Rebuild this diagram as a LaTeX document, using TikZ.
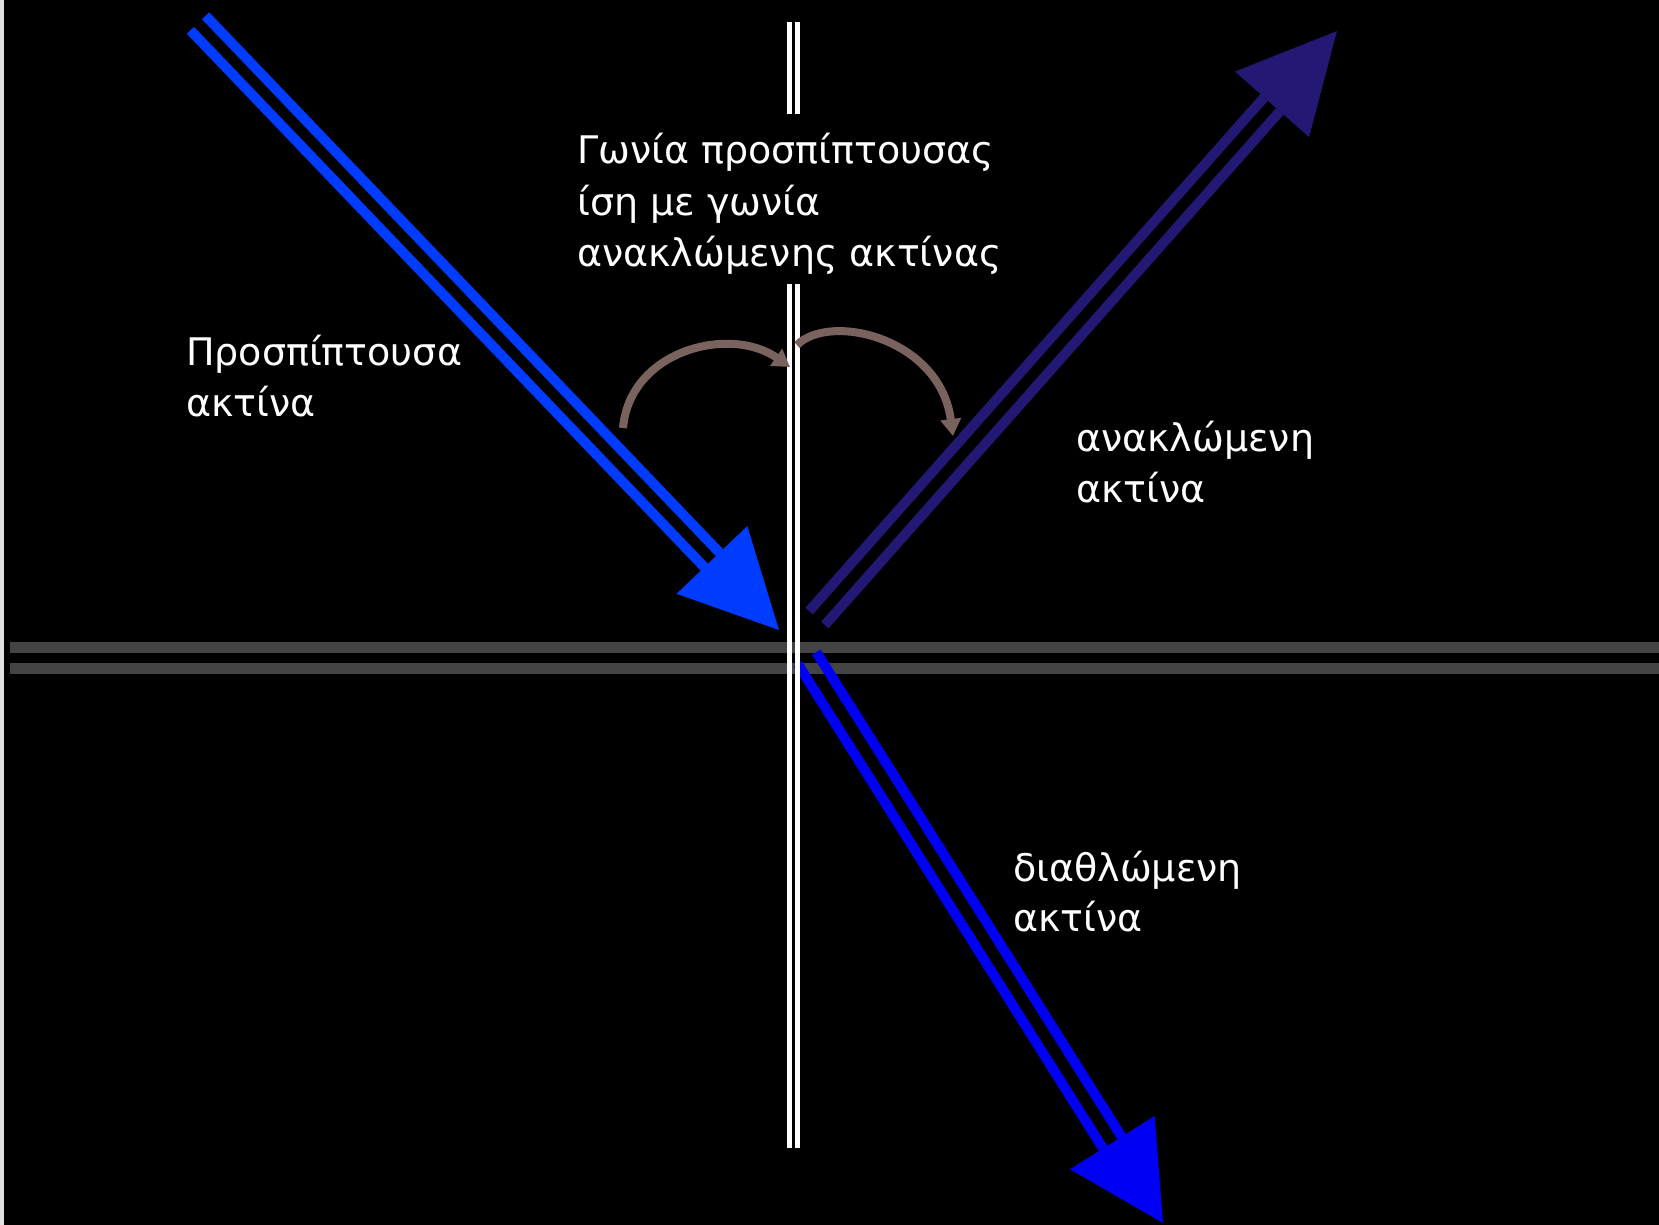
\documentclass[tikz,border=0pt]{standalone}
\usepackage{fontspec}
\setmainfont{DejaVu Sans}
\usetikzlibrary{calc,arrows.meta}
\definecolor{incblue}{RGB}{0,60,255}
\definecolor{refrblue}{RGB}{0,0,245}
\definecolor{reflnavy}{RGB}{35,24,115}
\definecolor{hgray}{RGB}{68,68,68}
\definecolor{curvebrown}{RGB}{122,98,94}
\definecolor{edgegray}{RGB}{225,225,225}
\begin{document}
\begin{tikzpicture}[x=1pt,y=-1pt,
  raystrip/.style={line width=10pt},
  normalline/.style={white,line width=4.5pt},
  surfline/.style={hgray,line width=11pt},
  curvearrow/.style={curvebrown,line width=8pt,-{Triangle[length=17pt,width=20pt]}},
  lbl/.style={text=white,font=\fontsize{38}{51}\selectfont,anchor=base west,inner sep=0pt}]
\useasboundingbox (0,0) rectangle (1659,1225);
\fill[black] (0,0) rectangle (1659,1225);
\fill[edgegray] (0,0) rectangle (4,1225);

% surface (two gray lines)
\coordinate (s1a) at (10,647.5);   \coordinate (s1b) at (1659,647.5);
\coordinate (s2a) at (10,668.5);   \coordinate (s2b) at (1659,668.5);
\draw[surfline] (s1a) -- (s1b);
\draw[surfline] (s2a) -- (s2b);

% incident ray
\coordinate (incS) at (198,23);
\coordinate (incT) at (779,630);
\coordinate (incB) at ($(incT)!97pt!(incS)$);
\draw[raystrip,incblue] ($(incS)!10.5pt!90:(incT)$) -- ($(incB)!10.5pt!90:(incT)$);
\draw[raystrip,incblue] ($(incS)!10.5pt!-90:(incT)$) -- ($(incB)!10.5pt!-90:(incT)$);
\fill[incblue] (incT) -- ($(incB)!49pt!90:(incT)$) -- ($(incB)!49pt!-90:(incT)$) -- cycle;

% reflected ray
\coordinate (rflS) at (817,618);
\coordinate (rflT) at (1337,31);
\coordinate (rflB) at ($(rflT)!98pt!(rflS)$);
\draw[raystrip,reflnavy] ($(rflS)!10.5pt!90:(rflT)$) -- ($(rflB)!10.5pt!90:(rflT)$);
\draw[raystrip,reflnavy] ($(rflS)!10.5pt!-90:(rflT)$) -- ($(rflB)!10.5pt!-90:(rflT)$);
\fill[reflnavy] (rflT) -- ($(rflB)!49.5pt!90:(rflT)$) -- ($(rflB)!49.5pt!-90:(rflT)$) -- cycle;

% refracted ray
\coordinate (rfrS) at (807,658);
\coordinate (rfrT) at (1163,1223);
\coordinate (rfrB) at ($(rfrT)!95pt!(rfrS)$);
\draw[raystrip,refrblue] ($(rfrS)!11pt!90:(rfrT)$) -- ($(rfrB)!11pt!90:(rfrT)$);
\draw[raystrip,refrblue] ($(rfrS)!11pt!-90:(rfrT)$) -- ($(rfrB)!11pt!-90:(rfrT)$);
\fill[refrblue] (rfrT) -- ($(rfrB)!50pt!90:(rfrT)$) -- ($(rfrB)!50pt!-90:(rfrT)$) -- cycle;

% normal (double white line, interrupted by the text)
\coordinate (n1top) at (789.3,22);  \coordinate (n1mid) at (789.3,114);
\coordinate (n2top) at (797.3,22);  \coordinate (n2mid) at (797.3,114);
\coordinate (n1low) at (789.3,284); \coordinate (n1bot) at (789.3,1148);
\coordinate (n2low) at (797.3,284); \coordinate (n2bot) at (797.3,1148);
\draw[normalline] (n1top) -- (n1mid);
\draw[normalline] (n2top) -- (n2mid);
\draw[normalline] (n1low) -- (n1bot);
\draw[normalline] (n2low) -- (n2bot);

% angle arrows
\coordinate (cLs) at (623,428);
\coordinate (cLe) at (790,367);
\draw[curvearrow] (cLs) .. controls (630,350) and (730,325) .. (cLe);
\coordinate (cRs) at (797,345);
\coordinate (cRe) at (953,436);
\draw[curvearrow] (cRs) .. controls (830,312) and (940,338) .. (cRe);

% labels
\node[lbl] (t1) at (577,164) {Γωνία προσπίπτουσας};
\node[lbl] (t2) at (577,215) {ίση με γωνία};
\node[lbl] (t3) at (577,266) {ανακλώμενης ακτίνας};
\node[lbl] (l1) at (186,365) {Προσπίπτουσα};
\node[lbl] (l2) at (186,416) {ακτίνα};
\node[lbl] (r1) at (1076,451) {ανακλώμενη};
\node[lbl] (r2) at (1076,502) {ακτίνα};
\node[lbl] (d1) at (1013,881) {διαθλώμενη};
\node[lbl] (d2) at (1013,931) {ακτίνα};
\end{tikzpicture}
\end{document}
